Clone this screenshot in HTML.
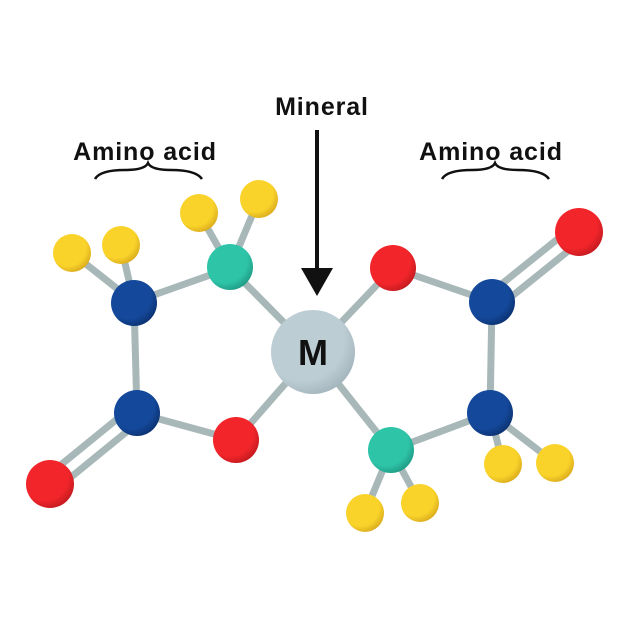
<!DOCTYPE html>
<html><head><style>html,body{margin:0;padding:0;background:#fff}svg{display:block}</style></head>
<body>
<svg width="630" height="630" viewBox="0 0 630 630" xmlns="http://www.w3.org/2000/svg">
<defs>
<radialGradient id="y" cx="0.38" cy="0.35" r="0.7"><stop offset="0.7" stop-color="#f9d32a"/><stop offset="1" stop-color="#d9a91c"/></radialGradient>
<radialGradient id="b" cx="0.38" cy="0.35" r="0.7"><stop offset="0.7" stop-color="#14489a"/><stop offset="1" stop-color="#0b3170"/></radialGradient>
<radialGradient id="t" cx="0.38" cy="0.35" r="0.7"><stop offset="0.7" stop-color="#2ec4a8"/><stop offset="1" stop-color="#1f9a84"/></radialGradient>
<radialGradient id="r" cx="0.38" cy="0.35" r="0.7"><stop offset="0.7" stop-color="#f2262a"/><stop offset="1" stop-color="#c21a20"/></radialGradient>
<radialGradient id="m" cx="0.38" cy="0.35" r="0.7"><stop offset="0.7" stop-color="#bdcdd4"/><stop offset="1" stop-color="#a3b4bc"/></radialGradient>
</defs>
<g font-family="Liberation Sans, sans-serif" font-weight="bold" font-size="25" fill="#111" letter-spacing="0.9">
<text x="322" y="115" text-anchor="middle">Mineral</text>
<text x="145" y="160" text-anchor="middle">Amino acid</text>
<text x="491" y="160" text-anchor="middle">Amino acid</text>
</g>
<g fill="none" stroke="#111" stroke-width="2.5">
<path d="M95 179 Q100 170 125 170 Q145 170 148 163 Q151 170 171 170 Q196 170 202 179"/>
<path d="M442 179 Q447 170 472 170 Q492 170 495 163 Q498 170 518 170 Q543 170 549 179"/>
</g>
<line x1="317" y1="130" x2="317" y2="272" stroke="#111" stroke-width="4"/>
<polygon points="301,268 333,268 317,296" fill="#111"/>
<g stroke="#a8b8b8" stroke-width="7" stroke-linecap="round">
<line x1="72" y1="253" x2="134" y2="302"/><line x1="121" y1="246" x2="134" y2="302"/>
<line x1="134" y1="302" x2="230" y2="268"/><line x1="230" y1="268" x2="199" y2="213"/><line x1="230" y1="268" x2="259" y2="199"/>
<line x1="230" y1="268" x2="313" y2="352"/><line x1="134" y1="302" x2="137" y2="413"/>
<line x1="137" y1="413" x2="236" y2="440"/><line x1="236" y1="440" x2="313" y2="352"/>
<line x1="133" y1="406" x2="46" y2="477"/><line x1="141" y1="420" x2="54" y2="491"/>
<line x1="393" y1="268" x2="313" y2="352"/><line x1="393" y1="268" x2="492" y2="302"/>
<line x1="488" y1="295" x2="575" y2="225"/><line x1="496" y1="309" x2="583" y2="239"/>
<line x1="492" y1="302" x2="490" y2="413"/><line x1="490" y1="413" x2="391" y2="450"/>
<line x1="490" y1="413" x2="503" y2="464"/><line x1="490" y1="413" x2="555" y2="463"/>
<line x1="391" y1="450" x2="313" y2="352"/><line x1="391" y1="450" x2="365" y2="513"/><line x1="391" y1="450" x2="420" y2="503"/>
</g>
<circle cx="313" cy="352" r="42" fill="url(#m)"/>
<text x="313" y="365" text-anchor="middle" font-family="Liberation Sans, sans-serif" font-weight="bold" font-size="36" fill="#111">M</text>
<g>
<circle cx="72" cy="253" r="19" fill="url(#y)"/><circle cx="121" cy="245" r="19" fill="url(#y)"/>
<circle cx="199" cy="213" r="19" fill="url(#y)"/><circle cx="259" cy="199" r="19" fill="url(#y)"/>
<circle cx="134" cy="303" r="23" fill="url(#b)"/><circle cx="230" cy="267" r="23" fill="url(#t)"/>
<circle cx="137" cy="413" r="23" fill="url(#b)"/><circle cx="236" cy="440" r="23" fill="url(#r)"/>
<circle cx="50" cy="484" r="24" fill="url(#r)"/>
<circle cx="393" cy="268" r="23" fill="url(#r)"/><circle cx="579" cy="232" r="24" fill="url(#r)"/>
<circle cx="492" cy="302" r="23" fill="url(#b)"/><circle cx="490" cy="413" r="23" fill="url(#b)"/>
<circle cx="503" cy="464" r="19" fill="url(#y)"/><circle cx="555" cy="463" r="19" fill="url(#y)"/>
<circle cx="391" cy="450" r="23" fill="url(#t)"/>
<circle cx="365" cy="513" r="19" fill="url(#y)"/><circle cx="420" cy="503" r="19" fill="url(#y)"/>
</g>
</svg>
</body></html>
